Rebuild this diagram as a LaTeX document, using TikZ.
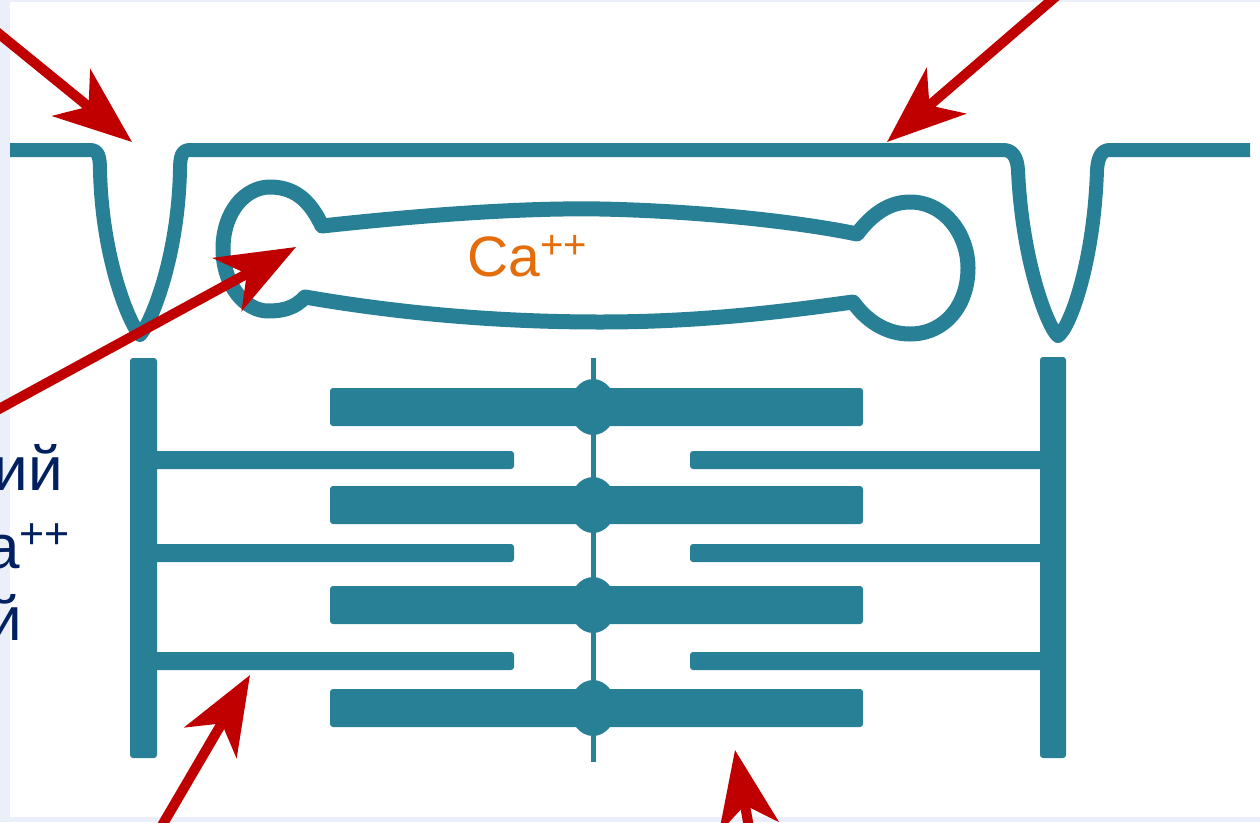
\documentclass[tikz,border=0pt]{standalone}
\usepackage{fontspec}
\setmainfont{Liberation Sans}
\usetikzlibrary{arrows.meta}

\definecolor{sarco}{RGB}{40,128,150}
\definecolor{arrowred}{RGB}{192,0,0}
\definecolor{caorange}{RGB}{228,108,10}
\definecolor{textnavy}{RGB}{0,32,96}
\definecolor{slidebg}{RGB}{234,239,250}

% raised "++" for the calcium ion
\newcommand{\ionplus}[2]{\raisebox{#2}{\fontsize{#1}{#1}\selectfont ++}}

\begin{document}
\begin{tikzpicture}[x=1pt, y=-1pt,
  membrane/.style={draw=sarco, line width=14pt, line join=round},
  filament/.style={fill=sarco, rounded corners=3pt},
  pointer/.style={draw=arrowred, line width=10pt,
    -{Stealth[length=78pt, width=60pt, inset=22pt]}},
  sidetext/.style={anchor=base east, inner sep=0pt, text=textnavy,
    font=\fontsize{62}{74}\selectfont}]
  \useasboundingbox (0,0) rectangle (1260,822);
  \clip (0,0) rectangle (1260,822);

  % slide background
  \fill[slidebg] (0,0) rectangle (1260,822);
  \fill[white] (10,2) rectangle (1260,817);

  % sarcolemma with the two T-tubules
  \draw[membrane] (10,150) -- (90,150) .. controls (98,150) and (100,156) .. (100,170)
    .. controls (102,260) and (130,325) .. (140,335)
    .. controls (150,325) and (178,260) .. (180,170)
    .. controls (180,156) and (182,150) .. (190,150) -- (1003,150)
    .. controls (1012,150) and (1017,156) .. (1018,170)
    .. controls (1022,262) and (1048,328) .. (1058,336)
    .. controls (1070,328) and (1094,262) .. (1097,170)
    .. controls (1098,156) and (1102,150) .. (1110,150) -- (1250,150);

  % reticulum (dumbbell)
  \draw[membrane, line width=15pt] (322,226)
    .. controls (450,212) and (540,208) .. (600,209)
    .. controls (700,211) and (800,222) .. (857,234)
    .. controls (873,213) and (890,202) .. (910,202)
    .. controls (945,202) and (968,235) .. (968,268)
    .. controls (968,305) and (945,334) .. (910,334)
    .. controls (885,334) and (866,320) .. (853,302)
    .. controls (780,312) and (700,322) .. (600,322)
    .. controls (480,322) and (380,310) .. (305,297)
    .. controls (295,308) and (283,311) .. (268,311)
    .. controls (245,311) and (223,285) .. (223,249)
    .. controls (223,212) and (245,187) .. (270,187)
    .. controls (298,187) and (312,205) .. cycle;
  \node[anchor=base west, inner sep=0pt, text=caorange,
    font=\fontsize{57}{68}\selectfont] (calcium) at (467,276) {Ca\ionplus{40}{18pt}};

  % Z-discs
  \fill[filament] (130,358) rectangle (157,758);
  \fill[filament] (1040,357) rectangle (1066,758);

  % thin filaments
  \foreach \y in {460,553,661} {
    \fill[filament] (150,\y-9) rectangle (514,\y+9);
    \fill[filament] (690,\y-9) rectangle (1046,\y+9);
  }

  % thick filaments on the M-line
  \draw[sarco, line width=5pt] (593,358) -- (593,762);
  \foreach \y in {407,505,605,708} {
    \fill[filament] (330,\y-19) rectangle (863,\y+19);
    \fill[sarco] (593,\y) ellipse [x radius=23, y radius=28];
  }

  % side text
  \node[sidetext] (capt1) at (63,490) {ий};
  \node[sidetext] (capt2) at (70,568) {a\ionplus{43}{20pt}};
  \node[sidetext] (capt3) at (22,640) {й};

  % pointers
  \coordinate (tubeL) at (132,142);
  \coordinate (tailA) at (-40,2);
  \coordinate (sarcolemma) at (887,142);
  \coordinate (tailB) at (1061,-8);
  \coordinate (cistern) at (296,247);
  \coordinate (tailC) at (-34,427);
  \coordinate (actin) at (250,675);
  \coordinate (tailD) at (136,870);
  \coordinate (myosin) at (735,750);
  \coordinate (tailE) at (761,894);
  \draw[pointer] (tailA) -- (tubeL);
  \draw[pointer] (tailB) -- (sarcolemma);
  \draw[pointer] (tailC) -- (cistern);
  \draw[pointer] (tailD) -- (actin);
  \draw[pointer] (tailE) -- (myosin);
\end{tikzpicture}
\end{document}
